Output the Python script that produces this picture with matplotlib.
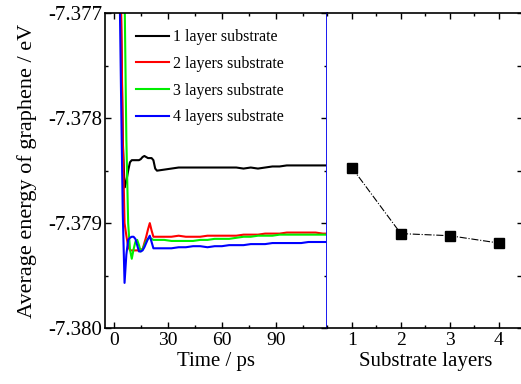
import matplotlib.pyplot as plt
import numpy as np
from matplotlib.ticker import MultipleLocator, FormatStrFormatter

plt.rcParams['font.family'] = ['Liberation Serif', 'DejaVu Serif']
plt.rcParams['axes.unicode_minus'] = False

# time axis, ps (fine steps during the first 24 ps, then coarser)
time_ps = [0, 1, 2, 3, 4, 5, 6, 7, 8, 9, 10, 11, 12, 13, 14, 15, 16, 17, 18, 19,
           20, 21, 22, 23, 24, 28, 32, 36, 40, 44, 48, 52, 56, 60, 64, 68, 72,
           76, 80, 84, 88, 92, 96, 100, 104, 108, 112, 116, 118.5]

# average energy of graphene, eV
e_1layer = [-7.3720, -7.3735, -7.3748, -7.3760, -7.3770, -7.3782, -7.37866, -7.37860,
            -7.37850, -7.37842, -7.37840, -7.37840, -7.37840, -7.37840, -7.37840,
            -7.37839, -7.37837, -7.37836, -7.37837, -7.37838, -7.37838, -7.37838,
            -7.37840, -7.37848, -7.37850, -7.37849, -7.37848, -7.37847, -7.37847,
            -7.37847, -7.37847, -7.37847, -7.37847, -7.37847, -7.37847, -7.37847,
            -7.37848, -7.37847, -7.37848, -7.37847, -7.37846, -7.37846, -7.37845,
            -7.37845, -7.37845, -7.37845, -7.37845, -7.37845, -7.37845]
e_2layers = [-7.3715, -7.3730, -7.3745, -7.3758, -7.3768, -7.3782, -7.3790, -7.37912,
             -7.37922, -7.37926, -7.37926, -7.37926, -7.37926, -7.37926, -7.37926,
             -7.37925, -7.37925, -7.37919, -7.37913, -7.37906, -7.37900, -7.37907,
             -7.37913, -7.37913, -7.37913, -7.37913, -7.37913, -7.37912, -7.37913,
             -7.37913, -7.37913, -7.37912, -7.37912, -7.37912, -7.37912, -7.37912,
             -7.37911, -7.37911, -7.37911, -7.37910, -7.37910, -7.37910, -7.37909,
             -7.37909, -7.37909, -7.37909, -7.37909, -7.37910, -7.37910]
e_3layers = [-7.3710, -7.3725, -7.3738, -7.3748, -7.3755, -7.3760, -7.3768, -7.3782,
             -7.3790, -7.37925, -7.37934, -7.37925, -7.37918, -7.37916, -7.37921,
             -7.37927, -7.37925, -7.37921, -7.37917, -7.37915, -7.37914, -7.37915,
             -7.37916, -7.37916, -7.37916, -7.37916, -7.37917, -7.37917, -7.37917,
             -7.37917, -7.37916, -7.37916, -7.37915, -7.37915, -7.37915, -7.37914,
             -7.37913, -7.37913, -7.37912, -7.37912, -7.37912, -7.37911, -7.37911,
             -7.37911, -7.37911, -7.37911, -7.37911, -7.37911, -7.37911]
e_4layers = [-7.3720, -7.3738, -7.3752, -7.3764, -7.3777, -7.3789, -7.37957, -7.37930,
             -7.37916, -7.37914, -7.37913, -7.37913, -7.37915, -7.37921, -7.37927,
             -7.37927, -7.37926, -7.37923, -7.37919, -7.37915, -7.37912, -7.37918,
             -7.37924, -7.37924, -7.37924, -7.37924, -7.37924, -7.37923, -7.37923,
             -7.37922, -7.37922, -7.37923, -7.37922, -7.37922, -7.37921, -7.37921,
             -7.37921, -7.37920, -7.37920, -7.37920, -7.37919, -7.37919, -7.37919,
             -7.37919, -7.37919, -7.37918, -7.37918, -7.37918, -7.37918]

series_labels = ['1 layer substrate', '2 layers substrate',
                 '3 layers substrate', '4 layers substrate']
series_colors = ['black', '#ff0000', '#00ee00', '#0000ff']

# final energy vs number of substrate layers
layers = [1, 2, 3, 4]
final_energy = [-7.37847, -7.37910, -7.37912, -7.37919]

fig = plt.figure(figsize=(5.21, 3.84), dpi=100)
ax1 = fig.add_axes([0.2010, 0.1458, 0.4273, 0.8195])
ax2 = fig.add_axes([0.6282, 0.1458, 0.3762, 0.8195])

for vals, lab, col in zip([e_1layer, e_2layers, e_3layers, e_4layers],
                          series_labels, series_colors):
    ax1.plot(time_ps, vals, color=col, lw=1.5, label=lab)

ax1.set_xlim(-5, 118.5)
ax1.set_ylim(-7.380, -7.377)
ax1.xaxis.set_major_locator(MultipleLocator(30))
ax1.xaxis.set_minor_locator(MultipleLocator(15))
ax1.yaxis.set_major_locator(MultipleLocator(0.001))
ax1.yaxis.set_minor_locator(MultipleLocator(0.0005))
ax1.yaxis.set_major_formatter(FormatStrFormatter('%.3f'))
ax1.tick_params(which='both', direction='in', top=True, right=True, width=1)
ax1.tick_params(which='major', length=4.5, labelsize=14, pad=3)
ax1.tick_params(which='minor', length=2.5)
ax1.tick_params(axis='y', which='major', labelsize=15, pad=2)
ax1.set_xlabel('Time / ps', fontsize=15, labelpad=2)
ax1.set_ylabel('Average energy of graphene / eV', fontsize=16, labelpad=8)
for s in ['left', 'bottom', 'top']:
    ax1.spines[s].set_linewidth(1.2)
ax1.spines['right'].set_color('#1818f0')
ax1.spines['right'].set_linewidth(1.4)
ax1.spines['right'].set_zorder(5)

ax1.legend(loc='upper left', bbox_to_anchor=(0.11, 0.969), frameon=False,
           fontsize=11.5, handlelength=2.1, handletextpad=0.25,
           labelspacing=0.66, borderaxespad=0)

ax2.plot(layers, final_energy, color='black', lw=0.8, ls='-.',
         marker='s', markersize=6.5)
ax2.set_xlim(0.5, 4.5)
ax2.set_ylim(-7.380, -7.377)
ax2.xaxis.set_major_locator(MultipleLocator(1))
ax2.xaxis.set_minor_locator(MultipleLocator(0.5))
ax2.yaxis.set_major_locator(MultipleLocator(0.0005))
ax2.tick_params(which='both', direction='in', top=True, right=True,
                left=False, labelleft=False, width=1)
ax2.tick_params(which='major', length=4.5, labelsize=14, pad=3)
ax2.tick_params(which='minor', length=2.5)
ax2.set_xlabel('Substrate layers', fontsize=15, labelpad=2)
ax2.spines['left'].set_visible(False)
for s in ['right', 'bottom', 'top']:
    ax2.spines[s].set_linewidth(1.2)

fig.savefig('out.png', dpi=100)
